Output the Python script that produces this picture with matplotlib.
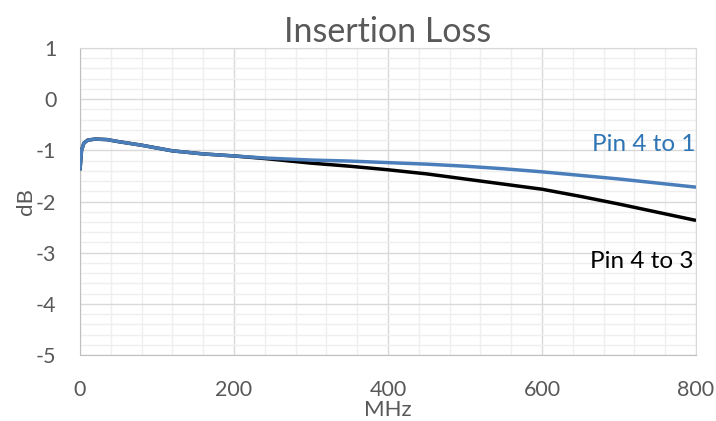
import numpy as np
import matplotlib
matplotlib.use('Agg')
import matplotlib.pyplot as plt
from matplotlib.ticker import MultipleLocator

# ---- data ----
freq_mhz = [0, 2, 5, 10, 20, 35, 50, 80, 120, 160, 200, 240, 300, 350, 400,
            450, 500, 550, 600, 650, 700, 750, 800]
pin_4_to_1 = [-1.39, -1.00, -0.86, -0.80, -0.78, -0.79, -0.83, -0.90, -1.01, -1.07,
              -1.11, -1.15, -1.19, -1.21, -1.24, -1.27, -1.31, -1.36, -1.42,
              -1.49, -1.56, -1.64, -1.72]
pin_4_to_3 = [-1.39, -1.00, -0.86, -0.80, -0.78, -0.79, -0.83, -0.90, -1.01, -1.07,
              -1.11, -1.16, -1.25, -1.31, -1.38, -1.46, -1.56, -1.66, -1.76,
              -1.90, -2.05, -2.21, -2.37]
x_ticks = [0, 200, 400, 600, 800]
y_ticks = [1, 0, -1, -2, -3, -4, -5]

GREY = '#595959'
BLUE_LINE = '#4a7ebb'
BLUE_TEXT = '#2e75b6'

plt.rcParams['font.family'] = ['Lato', 'DejaVu Sans']
plt.rcParams['axes.unicode_minus'] = False

fig = plt.figure(figsize=(7.16, 4.21), dpi=100)
ax = fig.add_axes([80 / 716, 1 - 355 / 421, 616 / 716, 307 / 421])

ax.plot(freq_mhz, pin_4_to_3, color='black', lw=2.5, solid_capstyle='butt', zorder=3)
ax.plot(freq_mhz, pin_4_to_1, color=BLUE_LINE, lw=2.5, solid_capstyle='butt', zorder=4)

ax.set_xlim(0, 800)
ax.set_ylim(-5, 1)
ax.set_xticks(x_ticks)
ax.set_yticks(y_ticks)
ax.xaxis.set_minor_locator(MultipleLocator(40))
ax.yaxis.set_minor_locator(MultipleLocator(0.2))

ax.grid(which='major', color='#d9d9d9', lw=1.0, zorder=1)
ax.grid(which='minor', color='#efefef', lw=1.0, zorder=0)
ax.set_axisbelow(True)

ax.tick_params(which='both', length=0, colors=GREY, labelsize=15.5)
ax.tick_params(axis='x', pad=18)
ax.tick_params(axis='y', pad=17)

for side in ['left', 'bottom']:
    ax.spines[side].set_color('#bfbfbf')
for side in ['top', 'right']:
    ax.spines[side].set_color('#d9d9d9')

ax.set_title('Insertion Loss', color=GREY, fontsize=24.5, pad=2)
ax.set_xlabel('MHz', color=GREY, fontsize=16, labelpad=0)
ax.set_ylabel('dB', color=GREY, fontsize=16, labelpad=0)

ax.text(800, -0.89, 'Pin 4 to 1', color=BLUE_TEXT, fontsize=17.5,
        ha='right', va='center')
ax.text(797, -3.18, 'Pin 4 to 3', color='black', fontsize=17.5,
        ha='right', va='center')

fig.savefig('out.png', dpi=100)
